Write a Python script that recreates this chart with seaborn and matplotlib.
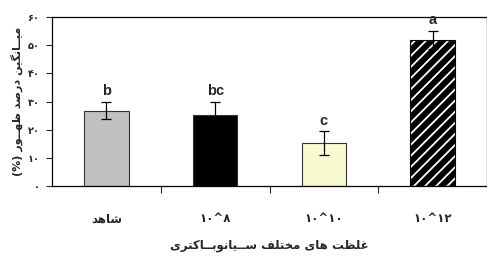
# Nemudar-e miangin-e darsad-e zohur - ghelzat-haye mokhtalef-e cyanobacteria
import matplotlib
matplotlib.use('Agg')
import matplotlib.pyplot as plt
import seaborn as sns
import pandas as pd
from matplotlib.patches import Rectangle

# Dados do grafico
tratamentos = ['شاهد', '۱۰^۸', '۱۰^۱۰', '۱۰^۱۲']
medias = [26.8, 25.1, 15.2, 51.8]
erros = [3.0, 4.8, 4.2, 3.3]
letras = ['b', 'bc', 'c', 'a']
cores = ['#C0C0C0', '#000000', '#FFFFCC', '#000000']
yticks_fa = ['۰', '۱۰', '۲۰', '۳۰', '۴۰', '۵۰', '۶۰']
titulo_y = 'میــانگین درصد ظهــور (%)'
titulo_x = 'غلظت های مختلف ســیانوبــاکتری'

# Formas de apresentacao (isolada, final, inicial, medial) - matplotlib nao faz shaping
FORMAS = {
    'ا': ('\uFE8D', '\uFE8E', None, None),
    'ب': ('\uFE8F', '\uFE90', '\uFE91', '\uFE92'),
    'ت': ('\uFE95', '\uFE96', '\uFE97', '\uFE98'),
    'خ': ('\uFEA5', '\uFEA6', '\uFEA7', '\uFEA8'),
    'د': ('\uFEA9', '\uFEAA', None, None),
    'ر': ('\uFEAD', '\uFEAE', None, None),
    'س': ('\uFEB1', '\uFEB2', '\uFEB3', '\uFEB4'),
    'ش': ('\uFEB5', '\uFEB6', '\uFEB7', '\uFEB8'),
    'ص': ('\uFEB9', '\uFEBA', '\uFEBB', '\uFEBC'),
    'ظ': ('\uFEC5', '\uFEC6', '\uFEC7', '\uFEC8'),
    'غ': ('\uFECD', '\uFECE', '\uFECF', '\uFED0'),
    'ف': ('\uFED1', '\uFED2', '\uFED3', '\uFED4'),
    'ل': ('\uFEDD', '\uFEDE', '\uFEDF', '\uFEE0'),
    'م': ('\uFEE1', '\uFEE2', '\uFEE3', '\uFEE4'),
    'ن': ('\uFEE5', '\uFEE6', '\uFEE7', '\uFEE8'),
    'ه': ('\uFEE9', '\uFEEA', '\uFEEB', '\uFEEC'),
    'و': ('\uFEED', '\uFEEE', None, None),
    'ی': ('\uFBFC', '\uFBFD', '\uFBFE', '\uFBFF'),
    'ک': ('\uFB8E', '\uFB8F', '\uFB90', '\uFB91'),
    'گ': ('\uFB92', '\uFB93', '\uFB94', '\uFB95'),
    'ـ': ('ـ', 'ـ', 'ـ', 'ـ'),
}


def farsi(texto):
    # so numeros? fica como esta
    if not any(c in FORMAS for c in texto):
        return texto
    saida = []
    for i, c in enumerate(texto):
        if c not in FORMAS:
            saida.append(c)
            continue
        ant = texto[i - 1] if i > 0 else ''
        prox = texto[i + 1] if i + 1 < len(texto) else ''
        liga_ant = ant in FORMAS and FORMAS[ant][2] is not None
        liga_prox = prox in FORMAS and FORMAS[c][2] is not None
        iso, fin, ini, med = FORMAS[c]
        if liga_ant and liga_prox:
            saida.append(med)
        elif liga_ant:
            saida.append(fin)
        elif liga_prox:
            saida.append(ini)
        else:
            saida.append(iso)
    visual = ''.join(saida)[::-1]
    return visual.translate(str.maketrans('()', ')('))


df = pd.DataFrame({'trat': tratamentos, 'media': medias})

sns.set_style('ticks')
plt.rcParams['font.family'] = ['DejaVu Sans']
plt.rcParams['hatch.linewidth'] = 1.3

fig = plt.figure(figsize=(4.87, 2.57), dpi=100)
ax = fig.add_axes([0.107, 0.276, 0.893, 0.658])

sns.barplot(data=df, x='trat', y='media', hue='trat', palette=cores,
            width=0.41, legend=False, ax=ax, edgecolor='#333333', linewidth=0.8)

# Barra hachurada (ultima)
barra = ax.patches[3]
barra.set_facecolor('black')
barra.set_edgecolor('white')
barra.set_hatch('///')
ax.add_patch(Rectangle(barra.get_xy(), barra.get_width(), barra.get_height(),
                       fill=False, edgecolor='black', linewidth=0.8, zorder=3))

# Barras de erro
ax.errorbar(range(len(medias)), medias, yerr=erros, fmt='none', ecolor='black',
            elinewidth=0.9, capsize=3.5, capthick=0.9, zorder=4)

# Letras de significancia
for i, (m, e, l) in enumerate(zip(medias, erros, letras)):
    ax.text(i, m + e + 1.3, l, ha='center', va='bottom', fontsize=10.5,
            fontweight='bold', family='Liberation Sans')

ax.set_xlim(-0.5, 3.5)
ax.set_ylim(0, 60)
ax.set_yticks(range(0, 61, 10))
ax.set_yticklabels(yticks_fa, fontsize=7, fontweight='bold')

# ticks maiores entre categorias, rotulos nos menores
ax.set_xticks([0.5, 1.5, 2.5])
ax.set_xticklabels([])
ax.set_xticks(range(len(tratamentos)), minor=True)
ax.set_xticklabels([farsi(t) for t in tratamentos], minor=True, fontsize=8.5, fontweight='bold')
ax.tick_params(axis='x', which='minor', length=0, pad=19)
ax.tick_params(axis='x', which='major', length=5, width=0.8, direction='out')
ax.tick_params(axis='y', length=4, width=0.8, direction='out', pad=5)

for lado in ['top', 'right', 'left', 'bottom']:
    ax.spines[lado].set_visible(True)
    ax.spines[lado].set_color('black')
    ax.spines[lado].set_linewidth(0.9)

ax.set_xlabel(farsi(titulo_x), fontsize=8.5, fontweight='bold', labelpad=10)
ax.set_ylabel(farsi(titulo_y), fontsize=8, fontweight='bold', labelpad=3)

fig.savefig('out.png', dpi=100)
